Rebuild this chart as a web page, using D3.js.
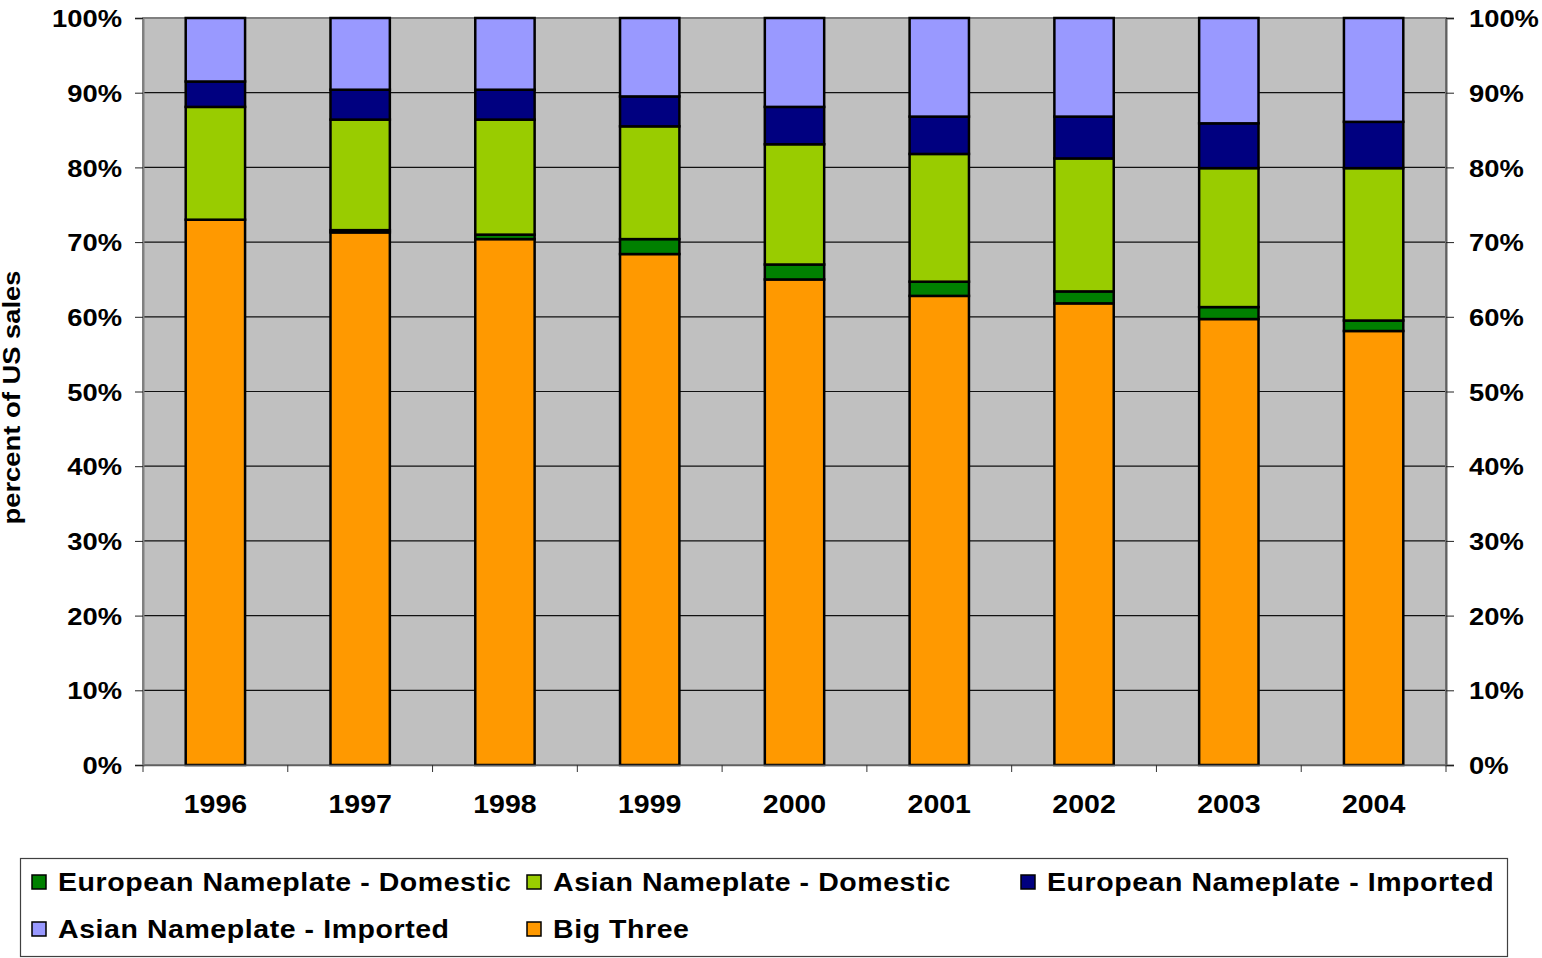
<!DOCTYPE html>
<html>
<head>
<meta charset="utf-8">
<script src="https://cdn.jsdelivr.net/npm/d3@7"></script>
<style>
  html, body { margin: 0; padding: 0; background: #fff; }
  svg { display: block; }
  text { font-family: "Liberation Sans", Arial, sans-serif; font-weight: bold; fill: #000; }
</style>
</head>
<body>
<svg id="chart" width="1542" height="958"></svg>
<script>
// ---- data (percent of US sales) ----
const years = ["1996", "1997", "1998", "1999", "2000", "2001", "2002", "2003", "2004"];
const bigThree          = [73.0, 71.3, 70.4, 68.4, 65.0, 62.8, 61.8, 59.7, 58.1];
const europeanDomestic  = [0.0, 0.3, 0.6, 2.0, 2.0, 1.9, 1.6, 1.6, 1.4];
const asianDomestic     = [15.1, 14.8, 15.4, 15.1, 16.1, 17.1, 17.8, 18.6, 20.4];
const europeanImported  = [3.4, 4.0, 4.0, 4.0, 5.0, 5.0, 5.6, 6.0, 6.2];
const asianImported     = [8.5, 9.6, 9.6, 10.5, 11.9, 13.2, 13.2, 14.1, 13.9];
const yTicks = [0, 10, 20, 30, 40, 50, 60, 70, 80, 90, 100];

const seriesNames = {
  bt: "Big Three",
  ed: "European Nameplate - Domestic",
  ad: "Asian Nameplate - Domestic",
  ei: "European Nameplate - Imported",
  ai: "Asian Nameplate - Imported"
};
const stackKeys = ["bt", "ed", "ad", "ei", "ai"];
const legendOrder = ["ed", "ad", "ei", "ai", "bt"];
const colors = { bt: "#FF9900", ed: "#008000", ad: "#99CC00", ei: "#000080", ai: "#9999FF" };

const table = years.map((y, i) => ({
  year: y, bt: bigThree[i], ed: europeanDomestic[i], ad: asianDomestic[i],
  ei: europeanImported[i], ai: asianImported[i]
}));

// ---- layout ----
const plot = { left: 143, right: 1446, top: 18, bottom: 765 };
const SX = 1.14;           // horizontal text stretch of the original rendering
const FS = 24;

const svg = d3.select("#chart");

const x = d3.scaleBand().domain(years).range([plot.left, plot.right]).padding(0);
const y = d3.scaleLinear().domain([0, 100]).range([plot.bottom, plot.top]);
const barW = x.bandwidth() * 0.41;

// plot background
svg.append("rect")
  .attr("x", plot.left).attr("y", plot.top)
  .attr("width", plot.right - plot.left).attr("height", plot.bottom - plot.top)
  .attr("fill", "#C0C0C0");

// gridlines
svg.append("g").selectAll("line")
  .data(yTicks.filter(t => t > 0 && t < 100))
  .join("line")
  .attr("x1", plot.left).attr("x2", plot.right)
  .attr("y1", d => y(d)).attr("y2", d => y(d))
  .attr("stroke", "#111").attr("stroke-width", 1.2);

// plot border
svg.append("rect")
  .attr("x", plot.left).attr("y", plot.top)
  .attr("width", plot.right - plot.left).attr("height", plot.bottom - plot.top)
  .attr("fill", "none").attr("stroke", "#808080").attr("stroke-width", 2);

// stacked bars
const stacked = d3.stack().keys(stackKeys)(table);
const gBars = svg.append("g");
stacked.forEach(layer => {
  gBars.append("g").selectAll("rect")
    .data(layer)
    .join("rect")
    .attr("x", d => x(d.data.year) + (x.bandwidth() - barW) / 2)
    .attr("width", barW)
    .attr("y", d => y(d[1]))
    .attr("height", d => Math.max(0, y(d[0]) - y(d[1])))
    .attr("fill", colors[layer.key])
    .attr("stroke", "#000")
    .attr("stroke-width", 2.5);
});

// left axis
const leftAxis = svg.append("g")
  .attr("transform", `translate(${plot.left},0)`)
  .call(d3.axisLeft(y).tickValues(yTicks).tickFormat(d => d + "%").tickSize(8));
leftAxis.select(".domain").attr("stroke", "#808080").attr("stroke-width", 2);
leftAxis.selectAll(".tick line").attr("stroke", "#222");
leftAxis.selectAll(".tick text")
  .attr("x", -21 / SX).attr("dy", "0.36em")
  .attr("transform", `scale(${SX},1)`)
  .style("font-size", FS + "px").style("font-family", '"Liberation Sans", Arial, sans-serif')
  .style("font-weight", "bold").attr("fill", "#000");

// right axis
const rightAxis = svg.append("g")
  .attr("transform", `translate(${plot.right},0)`)
  .call(d3.axisRight(y).tickValues(yTicks).tickFormat(d => d + "%").tickSize(8));
rightAxis.select(".domain").attr("stroke", "#606060").attr("stroke-width", 2);
rightAxis.selectAll(".tick line").attr("stroke", "#222");
rightAxis.selectAll(".tick text")
  .attr("x", 23 / SX).attr("dy", "0.36em")
  .attr("transform", `scale(${SX},1)`)
  .style("font-size", FS + "px").style("font-family", '"Liberation Sans", Arial, sans-serif')
  .style("font-weight", "bold").attr("fill", "#000");

// bottom axis (labels at band centres)
const bottomAxis = svg.append("g")
  .attr("transform", `translate(0,${plot.bottom})`)
  .call(d3.axisBottom(x).tickSize(0));
bottomAxis.select(".domain").attr("stroke", "#606060").attr("stroke-width", 1.5);
bottomAxis.selectAll(".tick text")
  .attr("y", 48).attr("dy", 0)
  .attr("transform", `scale(${SX},1)`)
  .style("font-size", (FS + 1) + "px").style("font-family", '"Liberation Sans", Arial, sans-serif')
  .style("font-weight", "bold").attr("fill", "#000");
// bottom boundary ticks
svg.append("g").selectAll("line")
  .data(d3.range(years.length + 1))
  .join("line")
  .attr("x1", i => plot.left + i * x.step()).attr("x2", i => plot.left + i * x.step())
  .attr("y1", plot.bottom).attr("y2", plot.bottom + 7)
  .attr("stroke", "#333").attr("stroke-width", 1);

// y-axis title
svg.append("text")
  .attr("transform", `translate(20,${(272 + 523) / 2}) rotate(-90) scale(1.19,1)`)
  .attr("text-anchor", "middle")
  .style("font-size", "23px")
  .text("percent of US sales");

// legend
const legend = svg.append("g");
legend.append("rect")
  .attr("x", 20.5).attr("y", 858.5).attr("width", 1487).attr("height", 98)
  .attr("fill", "#fff").attr("stroke", "#404040").attr("stroke-width", 1.2);
const legPos = [
  { x: 32, y: 882 }, { x: 527, y: 882 }, { x: 1021, y: 882 },
  { x: 32, y: 929 }, { x: 527, y: 929 }
];
legendOrder.forEach((k, i) => {
  const p = legPos[i];
  legend.append("rect")
    .attr("x", p.x).attr("y", p.y - 7).attr("width", 14).attr("height", 14)
    .attr("fill", colors[k]).attr("stroke", "#000").attr("stroke-width", 1.5);
  legend.append("text")
    .attr("transform", `translate(${p.x + 26},${p.y + 9}) scale(1.14,1)`)
    .style("font-size", "25px")
    .style("letter-spacing", "0.5px")
    .text(seriesNames[k]);
});
</script>
</body>
</html>
